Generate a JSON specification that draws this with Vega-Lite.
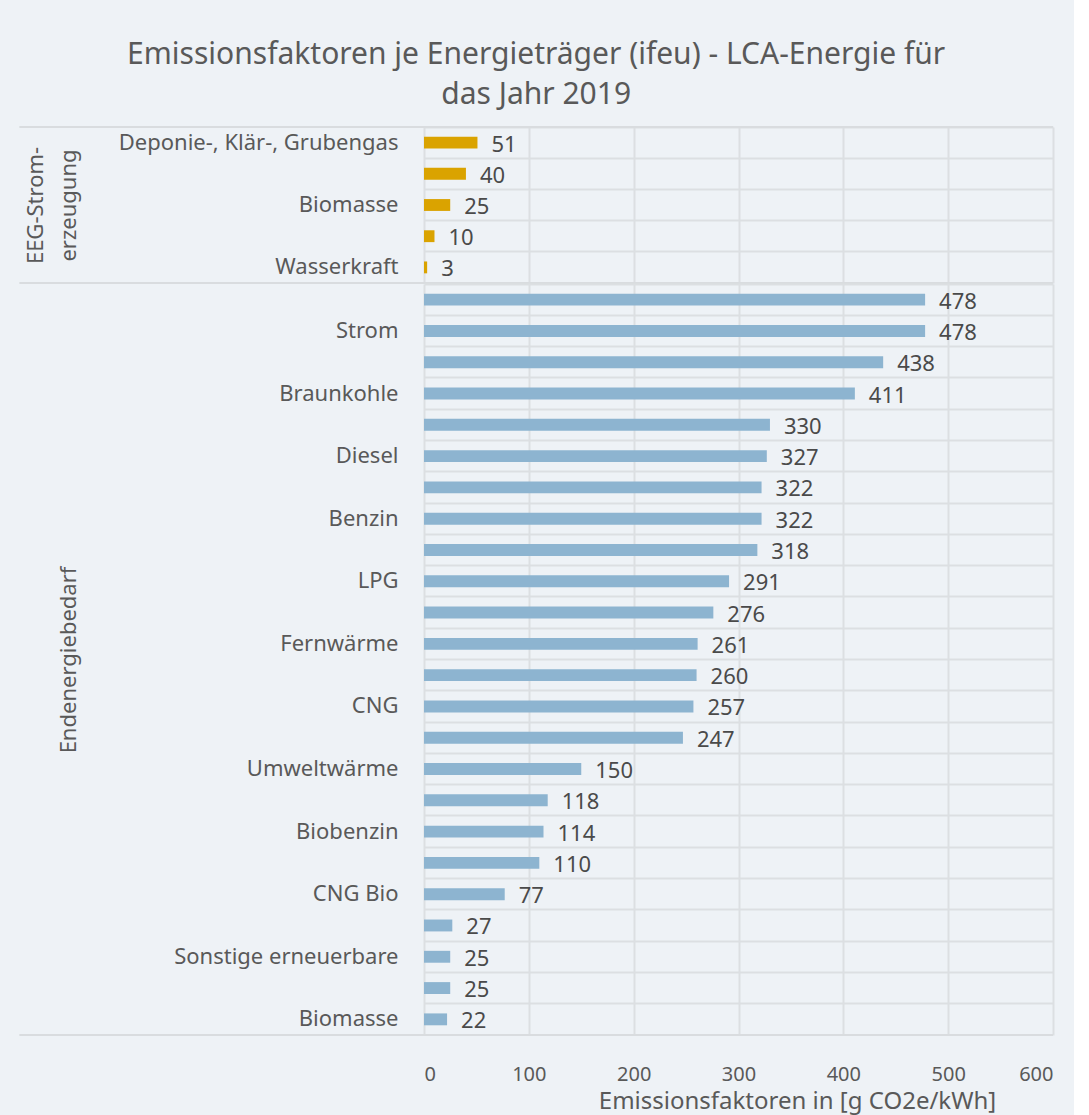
{
  "$schema": "https://vega.github.io/schema/vega-lite/v6.json",
  "background": "#EEF2F6",
  "padding": {"left": 18, "top": 40, "right": 20, "bottom": 2},
  "title": {
    "text": ["Emissionsfaktoren je Energieträger (ifeu) - LCA-Energie für", "das Jahr 2019"],
    "anchor": "middle",
    "font": "Noto Sans",
    "fontSize": 30,
    "fontWeight": "normal",
    "color": "#595959",
    "lineHeight": 40,
    "offset": 16
  },
  "datasets": {
    "eegstrom": [
      {"key": "Deponie-, Klär-, Grubengas", "value": 51},
      {"key": "#e2", "value": 40},
      {"key": "Biomasse", "value": 25},
      {"key": "#e4", "value": 10},
      {"key": "Wasserkraft", "value": 3}
    ],
    "endenergie": [
      {"key": "#n1", "value": 478},
      {"key": "Strom", "value": 478},
      {"key": "#n3", "value": 438},
      {"key": "Braunkohle", "value": 411},
      {"key": "#n5", "value": 330},
      {"key": "Diesel", "value": 327},
      {"key": "#n7", "value": 322},
      {"key": "Benzin", "value": 322},
      {"key": "#n9", "value": 318},
      {"key": "LPG", "value": 291},
      {"key": "#n11", "value": 276},
      {"key": "Fernwärme", "value": 261},
      {"key": "#n13", "value": 260},
      {"key": "CNG", "value": 257},
      {"key": "#n15", "value": 247},
      {"key": "Umweltwärme", "value": 150},
      {"key": "#n17", "value": 118},
      {"key": "Biobenzin", "value": 114},
      {"key": "#n19", "value": 110},
      {"key": "CNG Bio", "value": 77},
      {"key": "#n21", "value": 27},
      {"key": "Sonstige erneuerbare ", "value": 25},
      {"key": "#n23", "value": 25},
      {"key": "Biomasse", "value": 22}
    ]
  },
  "spacing": 0,
  "resolve": {"scale": {"y": "independent"}},
  "vconcat": [
    {
      "width": 629,
      "height": 156,
      "data": {"name": "eegstrom"},
      "encoding": {
        "y": {
          "field": "key", "type": "nominal", "sort": null,
          "scale": {"paddingInner": 0, "paddingOuter": 0},
          "axis": {
            "title": ["EEG-Strom-", "erzeugung"],
            "titleX": -377,
            "titleBaseline": "bottom",
            "titleLineHeight": 33,
            "labelExpr": "indexof(datum.value, '#') == 0 ? '' : datum.value",
            "labelPadding": 26,
            "bandPosition": 0,
            "grid": true
          }
        },
        "x": {
          "field": "value", "type": "quantitative",
          "scale": {"domain": [0, 600]},
          "axis": {"labels": false, "title": null, "grid": true, "values": [0, 100, 200, 300, 400, 500, 600]}
        }
      },
      "layer": [
        {"mark": {"type": "bar", "color": "#DAA300", "height": {"band": 0.38}}},
        {
          "mark": {"type": "text", "align": "left", "baseline": "middle", "dx": 14, "dy": 2, "font": "Noto Sans", "fontSize": 22, "color": "#4A4A4A"},
          "encoding": {"text": {"field": "value", "type": "quantitative"}}
        },
        {
          "transform": [{"filter": "datum.value == 51"}],
          "mark": {"type": "rule", "color": "#D9DCDF", "strokeWidth": 2},
          "encoding": {
            "y": {"field": "key", "type": "nominal", "sort": null, "bandPosition": 0},
            "x": {"datum": -386},
            "x2": {"datum": 600}
          }
        },
        {
          "transform": [{"filter": "datum.key == 'Wasserkraft'"}],
          "mark": {"type": "rule", "color": "#D9DCDF", "strokeWidth": 2},
          "encoding": {
            "y": {"field": "key", "type": "nominal", "sort": null, "bandPosition": 1},
            "x": {"datum": -386},
            "x2": {"datum": 600}
          }
        }
      ]
    },
    {
      "width": 629,
      "height": 751,
      "data": {"name": "endenergie"},
      "encoding": {
        "y": {
          "field": "key", "type": "nominal", "sort": null,
          "scale": {"paddingInner": 0, "paddingOuter": 0},
          "axis": {
            "title": "Endenergiebedarf",
            "titleX": -344,
            "titleBaseline": "bottom",
            "labelExpr": "indexof(datum.value, '#') == 0 ? '' : datum.value",
            "labelPadding": 26,
            "bandPosition": 0,
            "grid": true
          }
        },
        "x": {
          "field": "value", "type": "quantitative",
          "scale": {"domain": [0, 600]},
          "axis": {
            "title": "Emissionsfaktoren in [g CO2e/kWh]",
            "titleX": 373,
            "titleFontSize": 24,
            "titlePadding": 5,
            "labelPadding": 29,
            "labelFontSize": 20,
            "grid": true,
            "values": [0, 100, 200, 300, 400, 500, 600]
          }
        }
      },
      "layer": [
        {"mark": {"type": "bar", "color": "#8DB4D0", "height": {"band": 0.38}}},
        {
          "mark": {"type": "text", "align": "left", "baseline": "middle", "dx": 14, "dy": 2, "font": "Noto Sans", "fontSize": 22, "color": "#4A4A4A"},
          "encoding": {"text": {"field": "value", "type": "quantitative"}}
        },
        {
          "transform": [{"filter": "datum.value == 22"}],
          "mark": {"type": "rule", "color": "#D9DCDF", "strokeWidth": 2},
          "encoding": {
            "y": {"field": "key", "type": "nominal", "sort": null, "bandPosition": 1},
            "x": {"datum": -386},
            "x2": {"datum": 600}
          }
        }
      ]
    }
  ],
  "config": {
    "view": {"stroke": null},
    "axis": {
      "labelFont": "Noto Sans",
      "titleFont": "Noto Sans",
      "labelFontSize": 22,
      "titleFontSize": 22,
      "labelLimit": 0,
      "labelColor": "#595959",
      "titleColor": "#595959",
      "titleFontWeight": "normal",
      "domain": false,
      "ticks": false,
      "gridColor": "#DCDFE2",
      "gridWidth": 2
    }
  }
}
